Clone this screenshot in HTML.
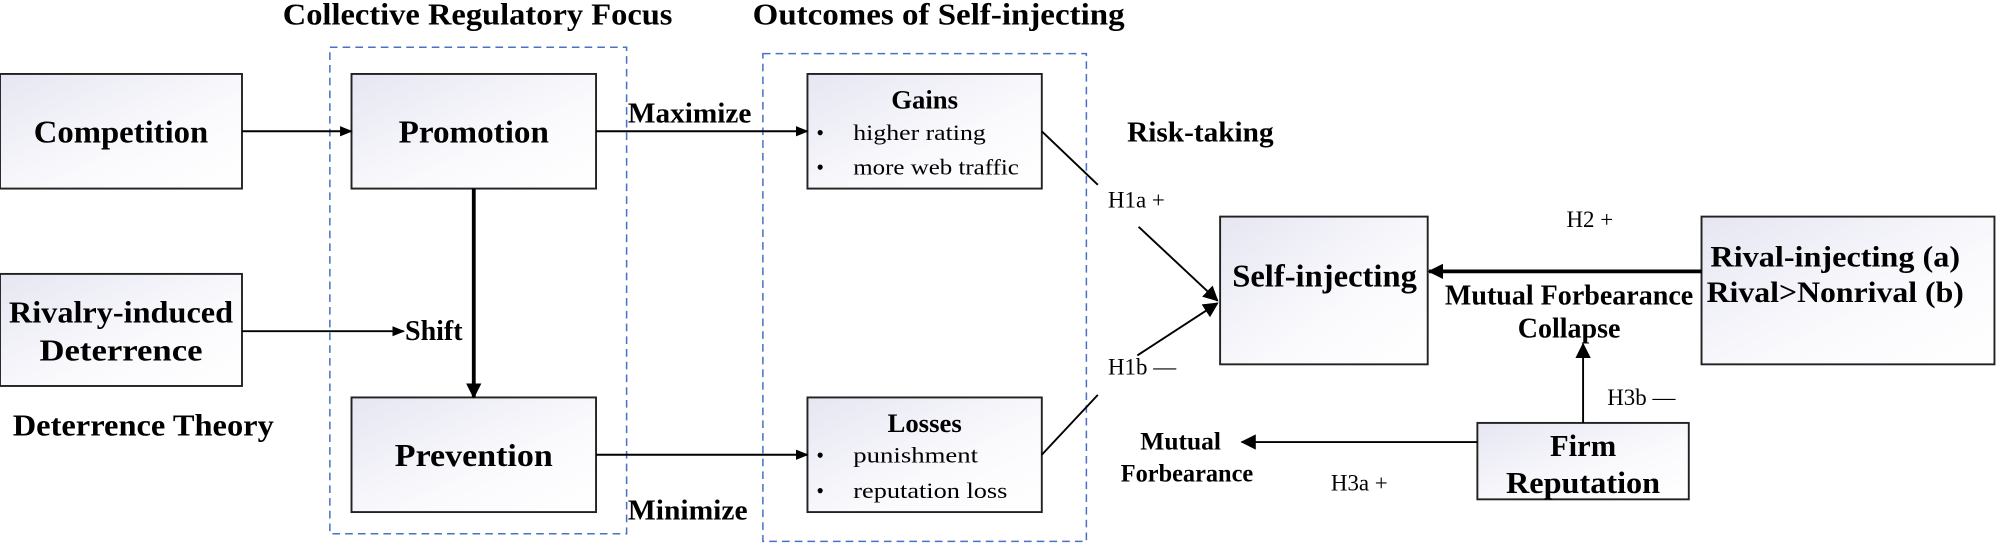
<!DOCTYPE html>
<html><head><meta charset="utf-8"><style>html,body{margin:0;padding:0;background:#fff}svg{display:block}</style></head>
<body>
<svg width="1997" height="544" viewBox="0 0 1568 427" xmlns="http://www.w3.org/2000/svg" font-family="Liberation Serif, serif" font-weight="bold">
<defs>
<linearGradient id="g" x1="0" y1="0" x2="1" y2="1"><stop offset="0" stop-color="#e6e6f2"/><stop offset="0.6" stop-color="#fafafd"/><stop offset="1" stop-color="#ffffff"/></linearGradient>
<marker id="a" markerWidth="10" markerHeight="8" refX="9" refY="4" orient="auto" markerUnits="userSpaceOnUse"><path d="M0,0 L10,4 L0,8 z" fill="#000"/></marker>
<marker id="b" markerWidth="12" markerHeight="12" refX="11" refY="6" orient="auto" markerUnits="userSpaceOnUse"><path d="M0,0 L12,6 L0,12 z" fill="#000"/></marker>
</defs>
<g fill="none" stroke="#4a72c4" stroke-width="1.2" stroke-dasharray="6,4">
<rect x="259" y="37" width="233" height="382"/>
<rect x="599" y="42" width="254" height="383"/>
</g>
<g fill="url(#g)" stroke="#222" stroke-width="1.5">
<rect x="0" y="58" width="190" height="90"/>
<rect x="276" y="58" width="192" height="90"/>
<rect x="0" y="215" width="190" height="88"/>
<rect x="276" y="312" width="192" height="90"/>
<rect x="634" y="58" width="184" height="90"/>
<rect x="634" y="312" width="184" height="90"/>
<rect x="958" y="170" width="163" height="116"/>
<rect x="1336" y="170" width="230" height="116"/>
<rect x="1160" y="332" width="166" height="60"/>
</g>
<g stroke="#000" stroke-width="1.5" fill="none">
<line x1="190" y1="103" x2="276" y2="103" marker-end="url(#a)"/>
<line x1="468" y1="103" x2="634" y2="103" marker-end="url(#a)"/>
<line x1="190" y1="260" x2="317" y2="260" marker-end="url(#a)"/>
<line x1="372" y1="148" x2="372" y2="312" stroke-width="3" marker-end="url(#b)"/>
<line x1="468" y1="357" x2="634" y2="357" marker-end="url(#a)"/>
<line x1="818" y1="103" x2="862" y2="145"/>
<line x1="894" y1="178" x2="956" y2="236" marker-end="url(#b)"/>
<line x1="818" y1="357" x2="862" y2="310"/>
<line x1="893" y1="279" x2="956" y2="238" marker-end="url(#b)"/>
<line x1="1336" y1="213" x2="1122" y2="213" stroke-width="3" marker-end="url(#b)"/>
<line x1="1243" y1="332" x2="1243" y2="270" marker-end="url(#b)"/>
<line x1="1160" y1="347" x2="975" y2="347" marker-end="url(#b)"/>
</g>
<g font-size="25" text-anchor="middle" fill="#000">
<text x="375" y="19" font-size="24" textLength="306" lengthAdjust="spacingAndGlyphs">Collective Regulatory Focus</text>
<text x="737" y="19" font-size="24" textLength="292" lengthAdjust="spacingAndGlyphs">Outcomes of Self-injecting</text>
<text x="95" y="112" textLength="137" lengthAdjust="spacingAndGlyphs">Competition</text>
<text x="372" y="112" textLength="118" lengthAdjust="spacingAndGlyphs">Promotion</text>
<text x="95" y="253" font-size="24" textLength="176" lengthAdjust="spacingAndGlyphs">Rivalry-induced</text>
<text x="95" y="283" font-size="24" textLength="128" lengthAdjust="spacingAndGlyphs">Deterrence</text>
<text x="372" y="366" textLength="124" lengthAdjust="spacingAndGlyphs">Prevention</text>
<text x="1040" y="225" textLength="145" lengthAdjust="spacingAndGlyphs">Self-injecting</text>
<text x="1441" y="209" font-size="23" textLength="196" lengthAdjust="spacingAndGlyphs">Rival-injecting (a)</text>
<text x="1441" y="237" font-size="23" textLength="202" lengthAdjust="spacingAndGlyphs">Rival&gt;Nonrival (b)</text>
<text x="1243" y="358" font-size="24">Firm</text>
<text x="1243" y="387" font-size="24" textLength="121" lengthAdjust="spacingAndGlyphs">Reputation</text>
<text x="726" y="85" font-size="21">Gains</text>
<text x="726" y="339" font-size="21">Losses</text>
</g>
<g font-size="22" fill="#000">
<text x="10" y="342" font-size="24" textLength="205" lengthAdjust="spacingAndGlyphs">Deterrence Theory</text>
<text x="318" y="267">Shift</text>
<text x="493" y="96" textLength="97" lengthAdjust="spacingAndGlyphs">Maximize</text>
<text x="493" y="408" textLength="94" lengthAdjust="spacingAndGlyphs">Minimize</text>
<text x="885" y="111" textLength="115" lengthAdjust="spacingAndGlyphs">Risk-taking</text>
<text x="870" y="163" font-size="18" font-weight="normal">H1a +</text>
<text x="870" y="294" font-size="18" font-weight="normal">H1b —</text>
<text x="1230" y="178" font-size="18" font-weight="normal">H2 +</text>
<text x="1232" y="239" font-size="22" text-anchor="middle" textLength="195" lengthAdjust="spacingAndGlyphs">Mutual Forbearance</text>
<text x="1232" y="265" font-size="22" text-anchor="middle">Collapse</text>
<text x="1262" y="318" font-size="18" font-weight="normal">H3b —</text>
<text x="927" y="353" font-size="20" text-anchor="middle">Mutual</text>
<text x="932" y="378" font-size="20" text-anchor="middle" textLength="104" lengthAdjust="spacingAndGlyphs">Forbearance</text>
<text x="1045" y="385" font-size="18" font-weight="normal">H3a +</text>
</g>
<g font-size="17" font-weight="normal" fill="#000">
<text x="641" y="110">•</text><text x="670" y="110" textLength="104" lengthAdjust="spacingAndGlyphs">higher rating</text>
<text x="641" y="137">•</text><text x="670" y="137" textLength="130" lengthAdjust="spacingAndGlyphs">more web traffic</text>
<text x="641" y="363">•</text><text x="670" y="363" textLength="98" lengthAdjust="spacingAndGlyphs">punishment</text>
<text x="641" y="391">•</text><text x="670" y="391" textLength="121" lengthAdjust="spacingAndGlyphs">reputation loss</text>
</g>
</svg>
</body></html>
